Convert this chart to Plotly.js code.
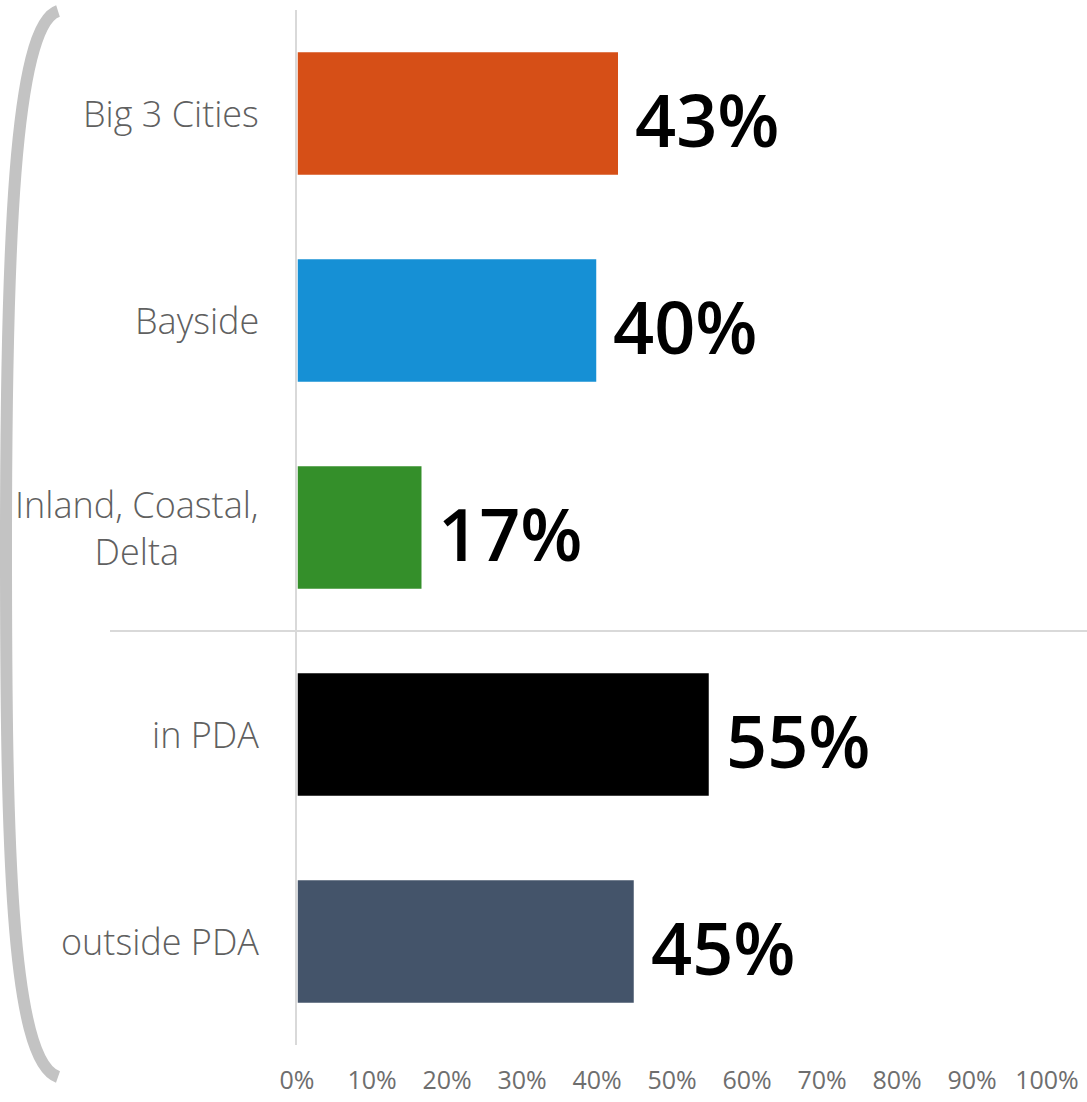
<!DOCTYPE html>
<html>
<head>
<meta charset="utf-8">
<script src="https://cdn.plot.ly/plotly-3.0.1.min.js"></script>
<style>html,body{margin:0;padding:0;background:#fff;}#chart{width:1087px;height:1102px;}</style>
</head>
<body>
<div id="chart"></div>
<script>
// ---- data ----
const categories = ["Big 3 Cities", "Bayside", "Inland, Coastal,<br>Delta", "in PDA", "outside PDA"];
const values = [42.9, 40.0, 16.7, 55.0, 45.0];
const valueLabels = ["43%", "40%", "17%", "55%", "45%"];
const barColors = ["#D64F17", "#1690D5", "#348F2A", "#000000", "#44546A"];
const tickVals = [0, 10, 20, 30, 40, 50, 60, 70, 80, 90, 100];
const tickText = ["0%", "10%", "20%", "30%", "40%", "50%", "60%", "70%", "80%", "90%", "100%"];

// ---- geometry helpers for decorations ----
const W = 1087, H = 1102;
const M = {l: 297, r: 40, t: 10, b: 57};
const pw = W - M.l - M.r, ph = H - M.t - M.b;
const px = x => (x - M.l) / pw;
const py = y => (H - M.b - y) / ph;

const trace = {
  type: "bar",
  orientation: "h",
  y: categories,
  x: values,
  marker: {color: barColors, line: {color: "#ffffff", width: 1.5}},
  hoverinfo: "skip",
  width: 0.6
};

const annotations = [];
categories.forEach((c, i) => {
  annotations.push({
    xref: "x", yref: "y", x: values[i], y: c,
    text: valueLabels[i], showarrow: false,
    xanchor: "left", yanchor: "middle", xshift: 14, yshift: -5,
    font: {family: "Open Sans, Noto Sans, sans-serif", size: 72, color: "#000", weight: 600}
  });
  annotations.push({
    xref: "paper", yref: "y", x: 0, y: c,
    text: c, showarrow: false, align: "center",
    xanchor: "right", yanchor: "middle", xshift: -36,
    font: {family: "Open Sans, Noto Sans, sans-serif", size: 36, color: "#606060", weight: 300}
  });
});

const bracketPath = `M ${px(58)} ${py(11)} C ${px(14)} ${py(25)} ${px(6)} ${py(250)} ${px(6)} ${py(545)} C ${px(6)} ${py(840)} ${px(10)} ${py(1060)} ${px(58)} ${py(1077)}`;

const layout = {
  width: W, height: H,
  margin: M,
  paper_bgcolor: "#ffffff",
  plot_bgcolor: "#ffffff",
  showlegend: false,
  bargap: 0.4,
  xaxis: {
    range: [0, 100], tickvals: tickVals, ticktext: tickText,
    showgrid: false, zeroline: false, showline: false, ticks: "",
    ticklabelstandoff: 18,
    tickfont: {family: "Open Sans, Noto Sans, sans-serif", size: 25, color: "#6E6E6E", weight: 400},
    fixedrange: true
  },
  yaxis: {
    type: "category", autorange: "reversed", showticklabels: false,
    showgrid: false, zeroline: false, showline: true, linecolor: "#D9D9D9", linewidth: 2, ticks: "",
    fixedrange: true
  },
  annotations: annotations,
  shapes: [
    {type: "line", xref: "paper", yref: "y", x0: px(110), x1: px(1087), y0: 2.5, y1: 2.5,
     line: {color: "#D9D9D9", width: 2}, layer: "below"},
    {type: "path", xref: "paper", yref: "paper", path: bracketPath,
     line: {color: "#C3C3C3", width: 12}}
  ]
};

Plotly.newPlot("chart", [trace], layout, {displayModeBar: false, staticPlot: true});
</script>
</body>
</html>
